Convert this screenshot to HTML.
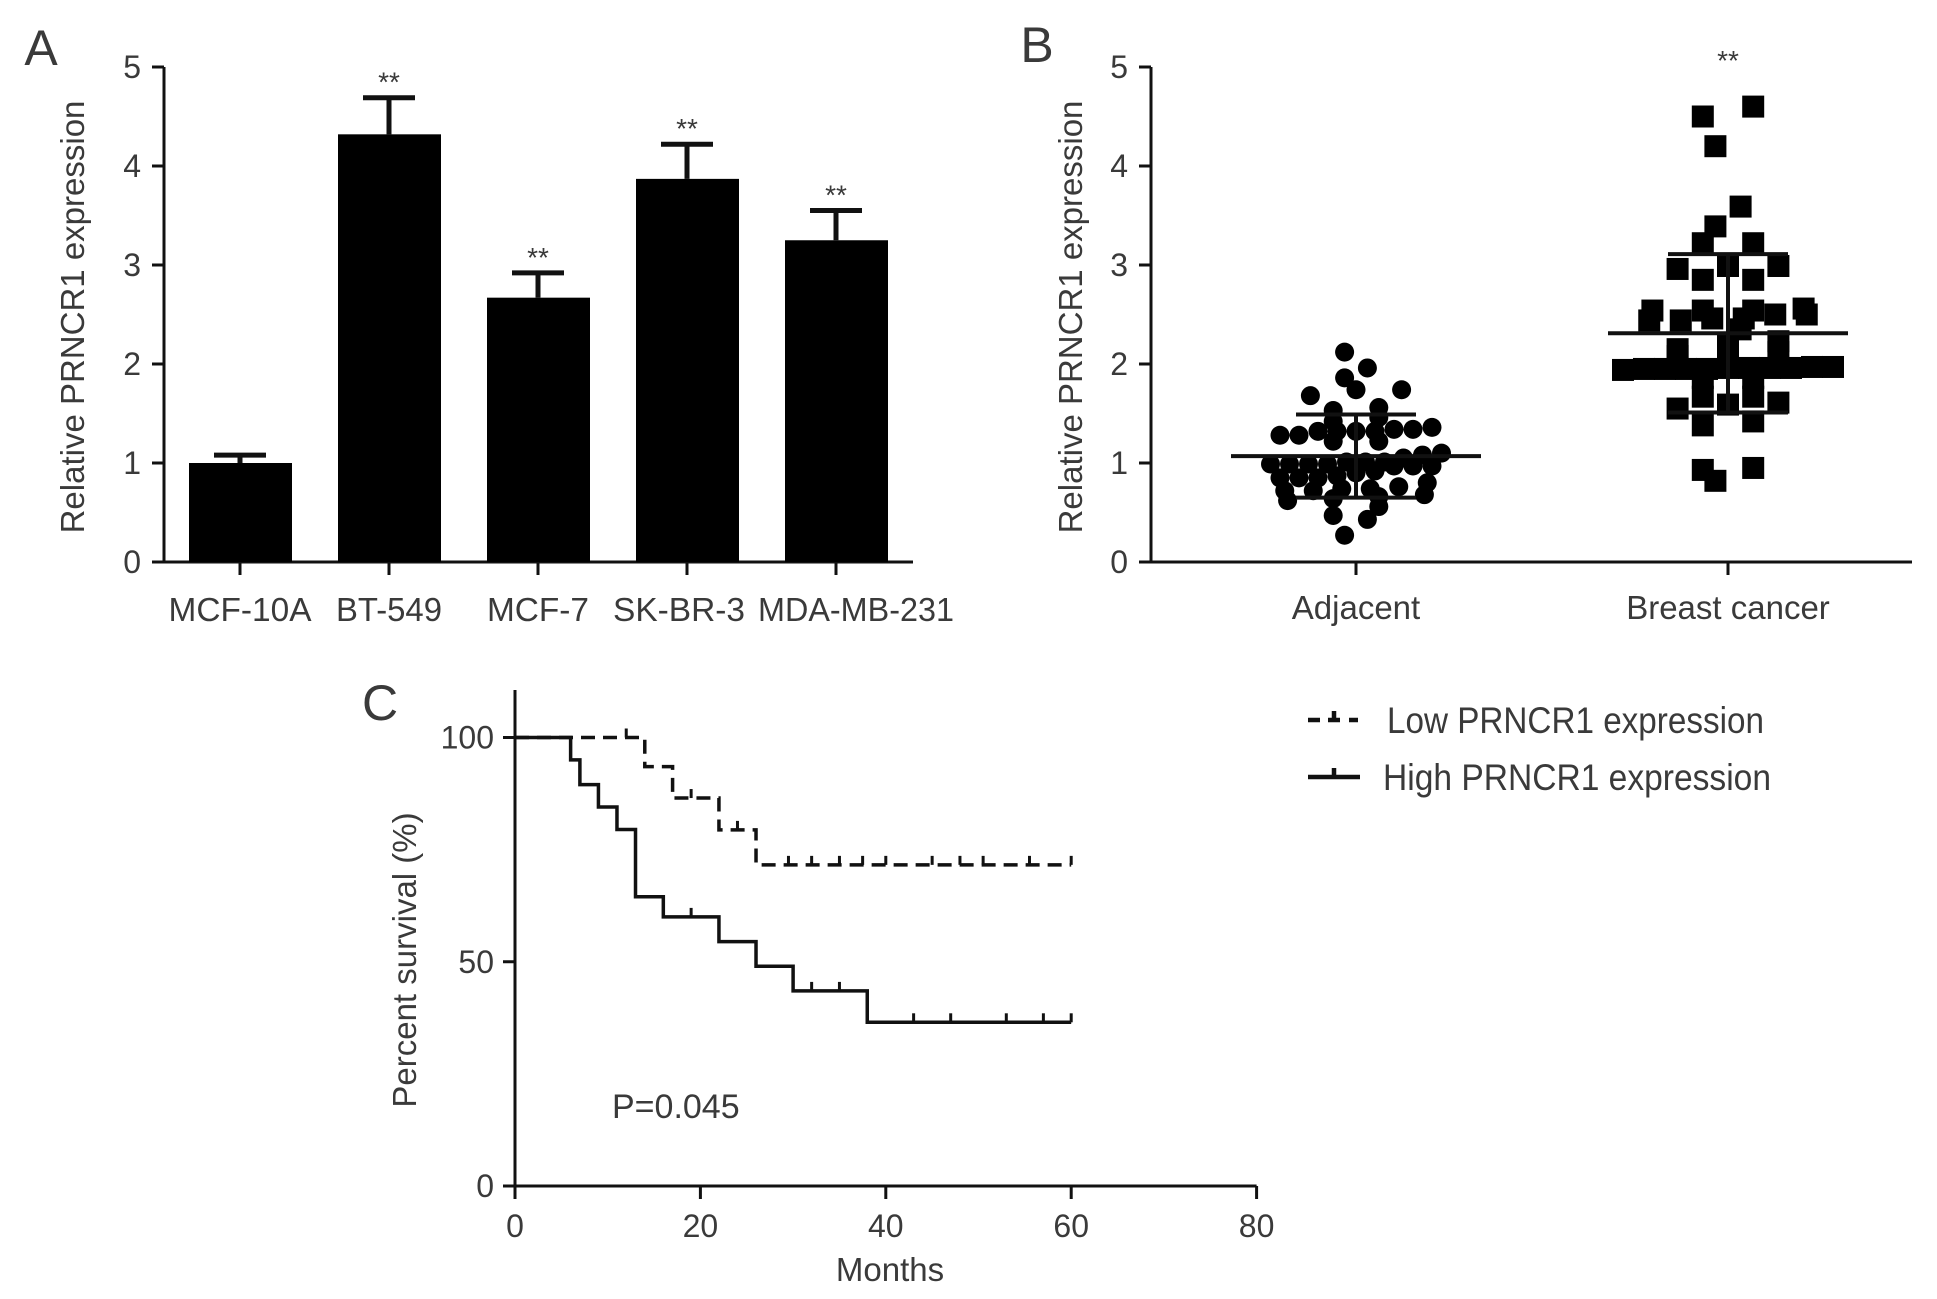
<!DOCTYPE html>
<html><head><meta charset="utf-8"><style>
html,body{margin:0;padding:0;background:#fff;}
svg{display:block;font-family:"Liberation Sans",Arial,sans-serif;}
.t{fill:#3a3a3a;font-size:32px;}
</style></head><body>
<svg id="fig" width="1937" height="1299" viewBox="0 0 1937 1299">
<text x="41" y="65" style="font-size:50px" class="t" text-anchor="middle">A</text>
<text x="1037" y="62" style="font-size:50px" class="t" text-anchor="middle">B</text>
<text x="380" y="720" style="font-size:50px" class="t" text-anchor="middle">C</text>
<text class="t" style="font-size:33px" transform="translate(84,317) rotate(-90)" text-anchor="middle">Relative PRNCR1 expression</text>
<text class="t" style="font-size:33px" transform="translate(1082,317) rotate(-90)" text-anchor="middle">Relative PRNCR1 expression</text>
<text class="t" style="font-size:33px" transform="translate(416,960) rotate(-90)" text-anchor="middle">Percent survival (%)</text>
<text class="t" style="font-size:33px" x="890" y="1281" text-anchor="middle">Months</text>
<text class="t" style="font-size:34px" x="612" y="1118">P=0.045</text>
<g id="gA"></g>
<g id="gB"></g>
<g id="gC"></g>
<g>
<g>
<path d="M1308 720 H1320 M1328 720 H1340 M1334 720 V711 M1349 720 H1358" stroke="#111" stroke-width="4.5" fill="none"/>
<text class="t" x="1387" y="733" style="font-size:37px" textLength="377" lengthAdjust="spacingAndGlyphs">Low PRNCR1 expression</text></g>
<g>
<path d="M1308 777 H1360 M1334 777 V768" stroke="#111" stroke-width="4.5" fill="none"/>
<text class="t" x="1383" y="790" style="font-size:37px" textLength="388" lengthAdjust="spacingAndGlyphs">High PRNCR1 expression</text></g>
</g>
</svg>
<script>
const NS='http://www.w3.org/2000/svg';
// Panel A data
const barCategories=['MCF-10A','BT-549','MCF-7','SK-BR-3','MDA-MB-231'];
const barValues=[1.0,4.32,2.67,3.87,3.25];
const barErrors=[0.08,0.37,0.25,0.35,0.3];
const barStars=['','**','**','**','**'];
const yTicksA=[0,1,2,3,4,5];
// label styling (not data)
const labelWidthsA=[143,106,102,132,196];
const labelShiftA=[0,0,0,-8,20];
// Panel B data
const scatterCategories=['Adjacent','Breast cancer'];
const adjacentValues=[2.12,1.96,1.86,1.74,1.68,1.74,1.53,1.56,1.42,1.46,1.34,1.32,1.32,1.28,1.28,1.32,1.32,1.34,1.36,1.22,1.22,1.1,1.01,0.99,0.99,0.97,0.97,0.97,0.99,1.01,1.01,0.99,0.85,0.87,0.8,0.85,0.85,0.74,0.72,0.68,0.64,0.62,0.66,0.72,0.74,0.76,0.47,0.43,0.56,0.27,1.05,1.08,0.9,0.92];
const adjacentMean=1.07, adjacentSD=0.42;
const cancerValues=[4.6,4.5,4.2,3.59,3.39,3.22,3.22,2.99,2.96,2.99,2.85,2.85,2.54,2.54,2.5,2.46,2.44,2.44,2.46,2.5,2.54,2.56,2.35,2.23,2.19,2.12,2.08,2.12,2.15,1.95,1.95,1.96,1.96,1.97,1.95,1.94,1.96,1.97,1.95,1.96,1.86,1.86,1.67,1.67,1.59,1.61,1.55,1.42,1.38,0.95,0.93,0.82];
const cancerMean=2.31, cancerSD=0.8;
const yTicksB=[0,1,2,3,4,5];
// Panel C data
const lowSteps=[[0,100],[14,93.5],[17,86.5],[22,79.4],[26,71.6]];
const lowCensor=[12,19,24,29.5,32,35,37.5,40,45,48,50.5,55.5,60];
const highSteps=[[0,100],[6,95],[7,89.5],[9,84.5],[11,79.5],[13,64.5],[16,60],[22,54.5],[26,49],[30,43.5],[38,36.5]];
const highCensor=[19,32,35,43,47,53,57,60];
const xTicksC=[0,20,40,60,80];
const yTicksC=[0,50,100];
const followEnd=60;

function mk(p,tag,at,txt){const e=document.createElementNS(NS,tag);for(const k in at)e.setAttribute(k,at[k]);if(txt!==undefined)e.textContent=txt;p.appendChild(e);return e;}
const LC='#111';
// ---- A
const gA=document.getElementById('gA');
const yA=v=>562-99*v, xA=i=>240+149*i;
mk(gA,'path',{d:'M164 67 V562 H913',stroke:LC,'stroke-width':3,fill:'none'});
yTicksA.forEach(t=>{mk(gA,'line',{x1:152,x2:164,y1:yA(t),y2:yA(t),stroke:LC,'stroke-width':3});
 const e=mk(gA,'text',{x:141,y:yA(t)+11,class:'t','text-anchor':'end'},t);
 });
barCategories.forEach((c,i)=>{
 const x=xA(i);
 const b=mk(gA,'rect',{x:x-51,y:yA(barValues[i]),width:103,height:yA(0)-yA(barValues[i]),fill:'#000'});
 
 const top=yA(barValues[i]+barErrors[i]);
 mk(gA,'path',{d:`M${x} ${yA(barValues[i])} V${top} M${x-26} ${top} H${x+26}`,stroke:LC,'stroke-width':5,fill:'none'});
 mk(gA,'line',{x1:x,x2:x,y1:562,y2:575,stroke:LC,'stroke-width':3});
 const lx=x+labelShiftA[i]-labelWidthsA[i]/2;
 const l=mk(gA,'text',{x:lx,y:621,class:'t',style:'font-size:33px',textLength:labelWidthsA[i],lengthAdjust:'spacingAndGlyphs'},c);
 
 if(barStars[i]){const s=mk(gA,'text',{x:x,y:top-6,class:'t','text-anchor':'middle',style:'font-size:28px'},barStars[i]);
  }
});
// ---- B
const gB=document.getElementById('gB');
const yB=v=>562-99*v, xB=i=>1356+372*i;
mk(gB,'path',{d:'M1151 67 V562 H1912',stroke:LC,'stroke-width':3,fill:'none'});
yTicksB.forEach(t=>{mk(gB,'line',{x1:1139,x2:1151,y1:yB(t),y2:yB(t),stroke:LC,'stroke-width':3});
 const e=mk(gB,'text',{x:1128,y:yB(t)+11,class:'t','text-anchor':'end'},t);
 });
function rows(vals,cx,sp,bin){
 const groups={};const res=[];let alt=1;
 vals.forEach((v,i)=>{const k=Math.round(v/bin);(groups[k]=groups[k]||[]).push(i);});
 Object.values(groups).forEach(g=>{g.sort((a,b)=>vals[a]-vals[b]);const n=g.length;
  const sp2=n<=4?sp*2.4:(n<=7?sp*1.5:sp);
  const sh=n===1?(alt=-alt)*sp*0.6:0;
  g.forEach((i,j)=>{res[i]=[cx+sh+(j-(n-1)/2)*sp2,yB(vals[i])];});});
 return res;}
const adjPos=rows(adjacentValues,xB(0),19,0.13);
adjPos.forEach(p=>{const c=mk(gB,'circle',{cx:p[0],cy:p[1],r:9.5,fill:'#000'});
 });
const canPos=rows(cancerValues,xB(1),21,0.13);
canPos.forEach(p=>{const r=mk(gB,'rect',{x:p[0]-11,y:p[1]-11,width:22,height:22,fill:'#000'});
 });
[[0,adjacentMean,adjacentSD,125,60],[1,cancerMean,cancerSD,120,60]].forEach(([i,m,sd,hw,cw])=>{
 const x=xB(i);
 mk(gB,'path',{d:`M${x-hw} ${yB(m)} H${x+hw} M${x} ${yB(m-sd)} V${yB(m+sd)} M${x-cw} ${yB(m+sd)} H${x+cw} M${x-cw} ${yB(m-sd)} H${x+cw}`,stroke:LC,'stroke-width':4,fill:'none'});
});
scatterCategories.forEach((c,i)=>{mk(gB,'line',{x1:xB(i),x2:xB(i),y1:562,y2:575,stroke:LC,'stroke-width':3});
 const l=mk(gB,'text',{x:xB(i),y:619,class:'t',style:'font-size:33px','text-anchor':'middle'},c);
 });
const st=mk(gB,'text',{x:xB(1),y:70,class:'t','text-anchor':'middle',style:'font-size:28px'},'**');

// ---- C
const gC=document.getElementById('gC');
const xC=m=>515+m*9.27, yC=p=>1186-p*4.485;
mk(gC,'path',{d:`M515 690 V1186 H${xC(80)}`,stroke:LC,'stroke-width':3,fill:'none'});
yTicksC.forEach(t=>{mk(gC,'line',{x1:503,x2:515,y1:yC(t),y2:yC(t),stroke:LC,'stroke-width':3});
 const e=mk(gC,'text',{x:494,y:yC(t)+11,class:'t','text-anchor':'end'},t);
 });
xTicksC.forEach(t=>{mk(gC,'line',{x1:xC(t),x2:xC(t),y1:1186,y2:1199,stroke:LC,'stroke-width':3});
 const e=mk(gC,'text',{x:xC(t),y:1237,class:'t','text-anchor':'middle'},t);
 });
function km(steps,cens,dash,name){
 let d=`M${xC(steps[0][0])} ${yC(steps[0][1])}`;
 for(let i=1;i<steps.length;i++){d+=` H${xC(steps[i][0])} V${yC(steps[i][1])}`;}
 d+=` H${xC(followEnd)}`;
 const p=mk(gC,'path',{d:d,stroke:LC,'stroke-width':3.5,fill:'none'});
 if(dash)p.setAttribute('stroke-dasharray',dash);
 
 cens.forEach(m=>{let s=100;steps.forEach(q=>{if(q[0]<=m)s=q[1];});
  const c=mk(gC,'line',{x1:xC(m),x2:xC(m),y1:yC(s),y2:yC(s)-9,stroke:LC,'stroke-width':3});
  });
}
km(lowSteps,lowCensor,'14 8','low-expression-curve');
km(highSteps,highCensor,null,'high-expression-curve');
</script>
</body></html>
